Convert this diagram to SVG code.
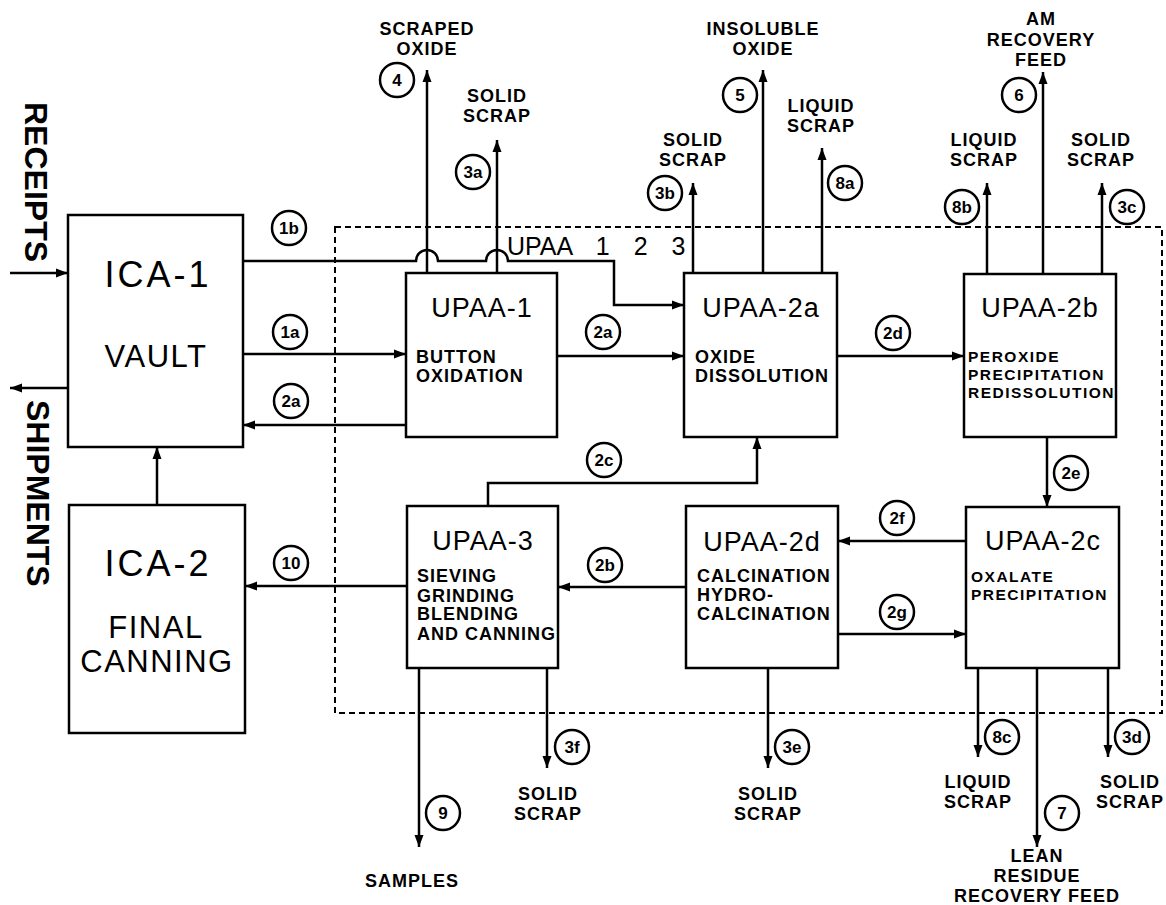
<svg xmlns="http://www.w3.org/2000/svg" width="1166" height="905" viewBox="0 0 1166 905">
<defs>
<marker id="ah" markerUnits="userSpaceOnUse" markerWidth="13" markerHeight="10" refX="12" refY="5" orient="auto">
<path d="M0,0.5 L12,5 L0,9.5 z" fill="#000"/>
</marker>
<style>
.box{fill:#fff;stroke:#000;stroke-width:2.5}
.ln{fill:none;stroke:#000;stroke-width:2.5}
.ar{fill:none;stroke:#000;stroke-width:2.5;marker-end:url(#ah)}
.dash{fill:none;stroke:#000;stroke-width:2;stroke-dasharray:6 4}
.cl{fill:#fff;stroke:#000;stroke-width:2.5}
.ct{font-family:"Liberation Sans",Arial,sans-serif;font-weight:bold;font-size:17px;text-anchor:middle}
.lb{font-family:"Liberation Sans",Arial,sans-serif;font-weight:bold;font-size:18px;letter-spacing:1px;text-anchor:middle}
.bt{font-family:"Liberation Sans",Arial,sans-serif;font-weight:bold;font-size:18px;letter-spacing:1px}
.bt2{font-family:"Liberation Sans",Arial,sans-serif;font-weight:bold;font-size:15.5px;letter-spacing:1.5px}
.ti{font-family:"Liberation Sans",Arial,sans-serif;font-size:27px;letter-spacing:1px;text-anchor:middle}
.big{font-family:"Liberation Sans",Arial,sans-serif;font-size:36px;letter-spacing:3px;text-anchor:middle}
.mid{font-family:"Liberation Sans",Arial,sans-serif;font-size:31px;letter-spacing:1.5px;text-anchor:middle}
.side{font-family:"Liberation Sans",Arial,sans-serif;font-weight:bold;font-size:32px}
.up{font-family:"Liberation Sans",Arial,sans-serif;font-size:25px;word-spacing:17px}
</style>
</defs>
<rect width="1166" height="905" fill="#fff"/>

<g id="boundary">
<rect class="dash" x="335" y="227" width="827" height="486"/>
<text class="up" x="507" y="255">UPAA 1 2 3</text>
</g>

<g id="connectors">
<path class="ar" d="M10,273 H68"/>
<path class="ar" d="M68,388 H10"/>
<path class="ar" d="M157,505 V447"/>
<path class="ar" d="M243,354 H406"/>
<path class="ar" d="M406,425 H243"/>
<path class="ar" d="M243,261 H416 A11,11 0 0 1 438,261 H486 A11,11 0 0 1 508,261 H614 V305 H684"/>
<path class="ar" d="M557,356 H684"/>
<path class="ar" d="M837,356 H964"/>
<path class="ar" d="M1047,437 V507"/>
<path class="ar" d="M966,541 H838"/>
<path class="ar" d="M838,634 H966"/>
<path class="ar" d="M686,587 H558"/>
<path class="ar" d="M488,506 V483 H757 V437"/>
<path class="ar" d="M407,586 H245"/>
<path class="ar" d="M427,273 V70"/>
<path class="ar" d="M497,273 V140"/>
<path class="ar" d="M693,273 V183"/>
<path class="ar" d="M763,273 V70"/>
<path class="ar" d="M822,273 V148"/>
<path class="ar" d="M987,274 V183"/>
<path class="ar" d="M1043,274 V72"/>
<path class="ar" d="M1102,274 V183"/>
<path class="ar" d="M419,668 V847"/>
<path class="ar" d="M547,668 V768"/>
<path class="ar" d="M768,668 V768"/>
<path class="ar" d="M978,668 V757"/>
<path class="ar" d="M1037,668 V847"/>
<path class="ar" d="M1108,668 V757"/>
</g>

<g id="stream-labels">
<circle class="cl" cx="289" cy="228" r="17"/><text class="ct" x="289" y="234">1b</text>
<circle class="cl" cx="290" cy="332" r="17"/><text class="ct" x="290" y="338">1a</text>
<circle class="cl" cx="291" cy="401" r="17"/><text class="ct" x="291" y="407">2a</text>
<circle class="cl" cx="603" cy="332" r="17"/><text class="ct" x="603" y="338">2a</text>
<circle class="cl" cx="893" cy="333" r="17"/><text class="ct" x="893" y="339">2d</text>
<circle class="cl" cx="1071" cy="473" r="17"/><text class="ct" x="1071" y="479">2e</text>
<circle class="cl" cx="897" cy="518" r="17"/><text class="ct" x="897" y="524">2f</text>
<circle class="cl" cx="897" cy="612" r="17"/><text class="ct" x="897" y="618">2g</text>
<circle class="cl" cx="605" cy="565" r="17"/><text class="ct" x="605" y="571">2b</text>
<circle class="cl" cx="604" cy="460" r="17"/><text class="ct" x="604" y="466">2c</text>
<circle class="cl" cx="291" cy="563" r="17"/><text class="ct" x="291" y="569">10</text>
<circle class="cl" cx="397" cy="80" r="17"/><text class="ct" x="397" y="86">4</text>
<circle class="cl" cx="473" cy="172" r="17"/><text class="ct" x="473" y="178">3a</text>
<circle class="cl" cx="665" cy="193" r="17"/><text class="ct" x="665" y="199">3b</text>
<circle class="cl" cx="740" cy="95" r="17"/><text class="ct" x="740" y="101">5</text>
<circle class="cl" cx="845" cy="183" r="17"/><text class="ct" x="845" y="189">8a</text>
<circle class="cl" cx="962" cy="207" r="17"/><text class="ct" x="962" y="213">8b</text>
<circle class="cl" cx="1019" cy="95" r="17"/><text class="ct" x="1019" y="101">6</text>
<circle class="cl" cx="1127" cy="207" r="17"/><text class="ct" x="1127" y="213">3c</text>
<circle class="cl" cx="443" cy="813" r="17"/><text class="ct" x="443" y="819">9</text>
<circle class="cl" cx="572" cy="747" r="17"/><text class="ct" x="572" y="753">3f</text>
<circle class="cl" cx="792" cy="747" r="17"/><text class="ct" x="792" y="753">3e</text>
<circle class="cl" cx="1002" cy="737" r="17"/><text class="ct" x="1002" y="743">8c</text>
<circle class="cl" cx="1062" cy="813" r="17"/><text class="ct" x="1062" y="819">7</text>
<circle class="cl" cx="1132" cy="737" r="17"/><text class="ct" x="1132" y="743">3d</text>
</g>

<g id="output-labels">
<text class="lb" x="427" y="35">SCRAPED</text><text class="lb" x="427" y="55">OXIDE</text>
<text class="lb" x="497" y="102">SOLID</text><text class="lb" x="497" y="122">SCRAP</text>
<text class="lb" x="693" y="146">SOLID</text><text class="lb" x="693" y="166">SCRAP</text>
<text class="lb" x="763" y="35">INSOLUBLE</text><text class="lb" x="763" y="55">OXIDE</text>
<text class="lb" x="821" y="112">LIQUID</text><text class="lb" x="821" y="132">SCRAP</text>
<text class="lb" x="984" y="146">LIQUID</text><text class="lb" x="984" y="166">SCRAP</text>
<text class="lb" x="1041" y="25">AM</text><text class="lb" x="1041" y="46">RECOVERY</text><text class="lb" x="1041" y="66">FEED</text>
<text class="lb" x="1101" y="146">SOLID</text><text class="lb" x="1101" y="166">SCRAP</text>
<text class="lb" x="412" y="887">SAMPLES</text>
<text class="lb" x="548" y="800">SOLID</text><text class="lb" x="548" y="820">SCRAP</text>
<text class="lb" x="768" y="800">SOLID</text><text class="lb" x="768" y="820">SCRAP</text>
<text class="lb" x="978" y="788">LIQUID</text><text class="lb" x="978" y="808">SCRAP</text>
<text class="lb" x="1130" y="788">SOLID</text><text class="lb" x="1130" y="808">SCRAP</text>
<text class="lb" x="1037" y="862">LEAN</text><text class="lb" x="1037" y="882">RESIDUE</text><text class="lb" x="1037" y="902">RECOVERY  FEED</text>
<text class="side" transform="translate(25,102) rotate(90)">RECEIPTS</text>
<text class="side" transform="translate(27,400) rotate(90)">SHIPMENTS</text>
</g>

<g id="ica1">
<rect class="box" x="68" y="215" width="175" height="232"/>
<text class="big" x="158" y="287">ICA-1</text>
<text class="mid" x="156" y="367">VAULT</text>
</g>

<g id="ica2">
<rect class="box" x="69" y="505" width="176" height="228"/>
<text class="big" x="158" y="576">ICA-2</text>
<text class="mid" x="156" y="638">FINAL</text>
<text class="mid" x="157" y="672">CANNING</text>
</g>

<g id="upaa1">
<rect class="box" x="406" y="273" width="151" height="164"/>
<text class="ti" x="482" y="317">UPAA-1</text>
<text class="bt" x="416" y="363">BUTTON</text>
<text class="bt" x="416" y="382">OXIDATION</text>
</g>

<g id="upaa2a">
<rect class="box" x="684" y="273" width="153" height="164"/>
<text class="ti" x="761" y="317">UPAA-2a</text>
<text class="bt" x="695" y="363">OXIDE</text>
<text class="bt" x="695" y="382">DISSOLUTION</text>
</g>

<g id="upaa2b">
<rect class="box" x="964" y="274" width="152" height="163"/>
<text class="ti" x="1040" y="317">UPAA-2b</text>
<text class="bt2" x="968" y="362">PEROXIDE</text>
<text class="bt2" x="968" y="380">PRECIPITATION</text>
<text class="bt2" x="968" y="398">REDISSOLUTION</text>
</g>

<g id="upaa3">
<rect class="box" x="407" y="506" width="151" height="162"/>
<text class="ti" x="483" y="550">UPAA-3</text>
<text class="bt" x="417" y="582">SIEVING</text>
<text class="bt" x="417" y="602">GRINDING</text>
<text class="bt" x="417" y="620">BLENDING</text>
<text class="bt" x="417" y="640">AND CANNING</text>
</g>

<g id="upaa2d">
<rect class="box" x="686" y="506" width="152" height="162"/>
<text class="ti" x="762" y="551">UPAA-2d</text>
<text class="bt" x="697" y="582">CALCINATION</text>
<text class="bt" x="697" y="601">HYDRO-</text>
<text class="bt" x="697" y="620">CALCINATION</text>
</g>

<g id="upaa2c">
<rect class="box" x="966" y="507" width="153" height="161"/>
<text class="ti" x="1043" y="550">UPAA-2c</text>
<text class="bt2" x="971" y="582">OXALATE</text>
<text class="bt2" x="971" y="600">PRECIPITATION</text>
</g>
</svg>
